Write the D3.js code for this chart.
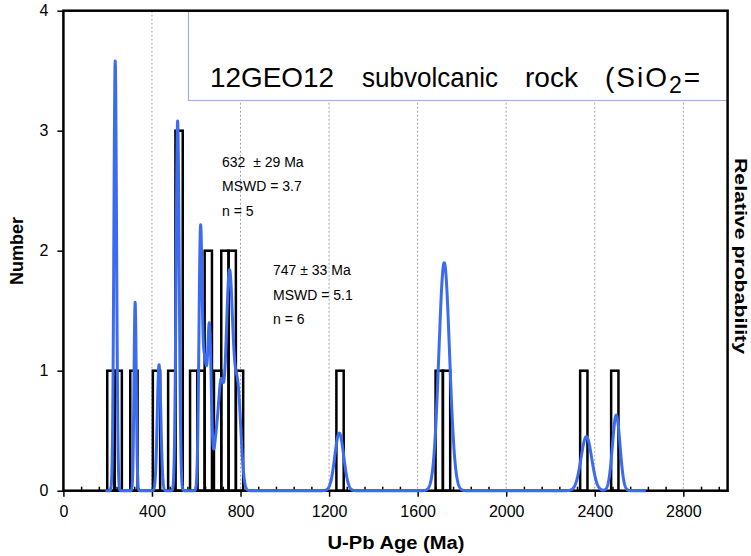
<!DOCTYPE html>
<html>
<head>
<meta charset="utf-8">
<script src="https://cdn.jsdelivr.net/npm/d3@7"></script>
<style>
  body { margin: 0; background: #fff; }
  svg { font-family: "Liberation Sans", Arial, sans-serif; display: block; }
</style>
</head>
<body>
<div class="container"></div>
<script>
// histogram bins: start age (Ma) and number of grains
const binStarts = [198, 231, 302, 404, 473, 506, 572, 605, 638, 680, 713, 746, 779, 1233, 1681, 1714, 2334, 2474];
const binCounts = [1, 1, 1, 1, 1, 3, 1, 1, 2, 1, 2, 2, 1, 1, 1, 1, 1, 1];
const binWidth = 33;

// probability curve components (age, spread, height in "Number" units)
const peakAges    = [234, 324, 432, 516, 619, 638, 660, 690, 712, 750, 788, 1246, 1720, 2362, 2497];
const peakSigmas  = [6, 5, 8, 7, 7, 10, 8, 12, 11, 16, 14, 20, 24, 24, 17];
const peakHeights = [3.58, 1.57, 1.05, 3.08, 2.03, 1.05, 1.28, 0.4, 0.75, 1.82, 0.8, 0.48, 1.9, 0.45, 0.63];
const curveStart = 190, curveEnd = 2630;

const xTicks = [0, 400, 800, 1200, 1600, 2000, 2400, 2800];
const yTicks = [0, 1, 2, 3, 4];

const titleWords = ["12GEO12", "subvolcanic", "rock"];
const ageNoteA = ["632  \u00b1 29 Ma", "MSWD = 3.7", "n = 5"];
const ageNoteB = ["747 \u00b1 33 Ma", "MSWD = 5.1", "n = 6"];

const width = 751, height = 556;

const svg = d3.select(".container")
  .append("svg")
  .attr("width", width)
  .attr("height", height);

const x = d3.scaleLinear().domain([0, 3000]).range([63.4, 727.6]);
const y = d3.scaleLinear().domain([0, 4]).range([490.7, 10.7]);

// dotted vertical grid lines
svg.append("g")
  .selectAll("line")
  .data(xTicks.filter(d => d > 0))
  .enter()
  .append("line")
  .attr("x1", d => x(d)).attr("x2", d => x(d))
  .attr("y1", y(4)).attr("y2", y(0))
  .attr("stroke", "#a0a0a0")
  .attr("stroke-width", 1)
  .attr("stroke-dasharray", "2,2");

// title box
svg.append("rect")
  .attr("x", 188.5).attr("y", 11.5)
  .attr("width", 539).attr("height", 89)
  .attr("fill", "#fff")
  .attr("stroke", "#9fb4d6")
  .attr("stroke-width", 1.2);

const wordX = [210, 362, 525];
const wordW = [124, 136, 53];
svg.append("g")
  .selectAll("text")
  .data(titleWords)
  .enter()
  .append("text")
  .attr("x", (d, i) => wordX[i])
  .attr("y", 87)
  .attr("font-size", 28)
  .attr("textLength", (d, i) => wordW[i])
  .attr("lengthAdjust", "spacingAndGlyphs")
  .attr("fill", "#000")
  .text(d => d);

const sio = svg.append("text")
  .attr("x", 605).attr("y", 87)
  .attr("font-size", 28)
  .attr("letter-spacing", 2)
  .attr("fill", "#000");
sio.append("tspan").text("(SiO");
sio.append("tspan").attr("font-size", 23).attr("dy", 6).text("2");
sio.append("tspan").attr("dy", -6).text("=");

// histogram bars
svg.append("g")
  .selectAll("rect")
  .data(binStarts.map((s, i) => ({ start: s, count: binCounts[i] })))
  .enter()
  .append("rect")
  .attr("x", d => x(d.start))
  .attr("width", d => x(d.start + binWidth) - x(d.start))
  .attr("y", d => y(d.count))
  .attr("height", d => y(0) - y(d.count))
  .attr("fill", "none")
  .attr("stroke", "#000")
  .attr("stroke-width", 2.5);

// frame
svg.append("rect")
  .attr("x", x(0)).attr("y", y(4))
  .attr("width", x(3000) - x(0))
  .attr("height", y(0) - y(4))
  .attr("fill", "none")
  .attr("stroke", "#000")
  .attr("stroke-width", 2.5);

// x axis: major ticks outside, minor ticks inside
svg.append("g")
  .attr("transform", `translate(0, ${y(0)})`)
  .call(d3.axisBottom(x).tickValues(xTicks).tickSize(6).tickPadding(9).tickFormat(d3.format("d")));
svg.append("g")
  .attr("transform", `translate(0, ${y(0)})`)
  .call(d3.axisBottom(x).tickValues(d3.range(0, 3001, 80).filter(d => d % 400 !== 0)).tickSize(-4).tickFormat(""));

svg.append("g")
  .attr("transform", `translate(${x(0)}, 0)`)
  .call(d3.axisLeft(y).tickValues(yTicks).tickSize(6).tickPadding(9).tickFormat(d3.format("d")));

svg.selectAll(".domain").remove();
svg.selectAll(".tick line").attr("stroke", "#000").attr("stroke-width", 1.5);
svg.selectAll(".tick text")
  .attr("font-size", 16)
  .attr("font-family", "Liberation Sans, Arial, sans-serif")
  .attr("fill", "#000");

// probability density curve
const curvePoints = d3.range(curveStart, curveEnd + 1, 1).map(age => {
  let v = 0;
  peakAges.forEach((a, i) => {
    const z = (age - a) / peakSigmas[i];
    v += peakHeights[i] * Math.exp(-0.5 * z * z);
  });
  return [age, v];
});

svg.append("path")
  .datum(curvePoints)
  .attr("d", d3.line().x(d => x(d[0])).y(d => y(d[1])))
  .attr("fill", "none")
  .attr("stroke", "#3b6cf0")
  .attr("stroke-width", 3)
  .attr("stroke-linejoin", "round");

// age notes
function note(lines, x0, y0) {
  svg.append("g")
    .selectAll("text")
    .data(lines)
    .enter()
    .append("text")
    .attr("x", x0)
    .attr("y", (d, i) => y0 + i * 24.5)
    .attr("font-size", 14)
    .attr("fill", "#000")
    .style("white-space", "pre")
    .text(d => d);
}
note(ageNoteA, 222, 166.5);
note(ageNoteB, 273, 275);

// axis titles
svg.append("text")
  .attr("x", 396).attr("y", 549)
  .attr("text-anchor", "middle")
  .attr("font-size", 18)
  .attr("font-weight", "bold")
  .attr("textLength", 137)
  .attr("lengthAdjust", "spacingAndGlyphs")
  .text("U-Pb Age (Ma)");

svg.append("text")
  .attr("transform", "translate(23, 251) rotate(-90)")
  .attr("text-anchor", "middle")
  .attr("font-size", 18)
  .attr("font-weight", "bold")
  .text("Number");

svg.append("text")
  .attr("transform", "translate(735, 256) rotate(90)")
  .attr("text-anchor", "middle")
  .attr("font-size", 17)
  .attr("font-weight", "bold")
  .attr("textLength", 196)
  .attr("lengthAdjust", "spacingAndGlyphs")
  .text("Relative probability");
</script>
</body>
</html>
